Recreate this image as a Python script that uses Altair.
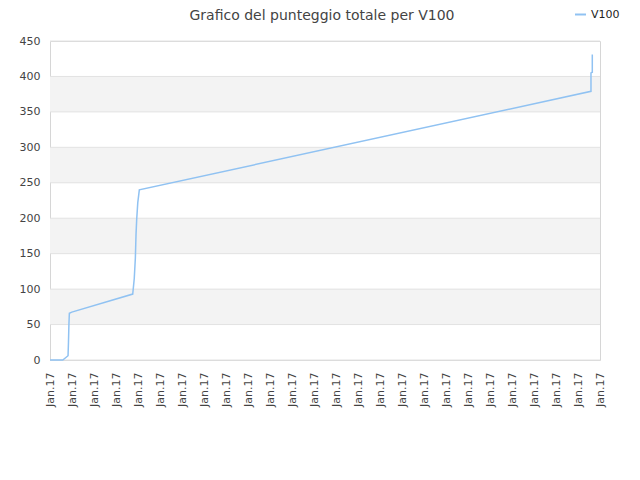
import altair as alt
import pandas as pd

# position along the x axis (in units of tick labels) and cumulative score
pos = [0.0, 0.58, 0.82, 0.84, 0.86, 0.88, 0.99, 3.76, 3.83, 3.88, 3.91, 3.94, 3.99, 4.06, 24.59, 24.59, 24.65, 24.65]
score = [0, 0, 6, 25, 50, 66, 67.5, 93, 115, 144, 177, 198, 222, 240, 379, 405, 406, 431]
series = ["V100"] * len(pos)

tick_pos = list(range(26))
tick_label = "Jan.17"
y_ticks = [0, 50, 100, 150, 200, 250, 300, 350, 400, 450]

band_start = [50, 150, 250, 350]
band_end = [100, 200, 300, 400]

df = pd.DataFrame({"pos": pos, "score": score, "serie": series})
bands = pd.DataFrame({"y0": band_start, "y1": band_end})
grid = pd.DataFrame({"g": y_ticks})

font = "DejaVu Sans"
yscale = alt.Scale(domain=[0, 450], nice=False)

y_axis = alt.Axis(
    values=y_ticks,
    title=None,
    ticks=False,
    domain=False,
    grid=False,
    labelOverlap=False,
    labelPadding=10,
    labelFontSize=11,
    labelColor="#444444",
    labelFont=font,
)

band_layer = alt.Chart(bands).mark_rect(color="#f3f3f3").encode(
    y=alt.Y("y0:Q", scale=yscale, axis=y_axis),
    y2="y1:Q",
)

grid_layer = alt.Chart(grid).mark_rule(color="#e2e2e2", strokeWidth=1).encode(
    y=alt.Y("g:Q", scale=yscale, axis=y_axis),
)

line = alt.Chart(df).mark_line(strokeWidth=1.5, interpolate="linear").encode(
    x=alt.X(
        "pos:Q",
        scale=alt.Scale(domain=[0, 25], nice=False, zero=False),
        axis=alt.Axis(
            values=tick_pos,
            labelExpr="'" + tick_label + "'",
            labelAngle=-90,
            title=None,
            grid=False,
            ticks=False,
            domain=False,
            labelPadding=12,
            labelFontSize=11,
            labelColor="#444444",
            labelFont=font,
        ),
    ),
    y=alt.Y("score:Q", scale=yscale, axis=y_axis),
    color=alt.Color(
        "serie:N",
        scale=alt.Scale(range=["#90c2f2"]),
        legend=alt.Legend(
            title=None,
            orient="none",
            legendX=524,
            legendY=-33,
            symbolType="stroke",
            symbolStrokeWidth=2,
            symbolSize=120,
            labelFontSize=11,
            labelFont=font,
            labelColor="#222222",
        ),
    ),
)

chart = (
    alt.layer(band_layer, grid_layer, line)
    .properties(
        width=550,
        height=319,
        autosize=alt.AutoSizeParams(type="none"),
        padding={"left": 42, "top": 33, "right": 24, "bottom": 96},
        title=alt.TitleParams(
            "Grafico del punteggio totale per V100",
            font=font,
            fontSize=14,
            fontWeight="normal",
            color="#444444",
            offset=20,
            dx=-3,
            dy=35,
        ),
    )
    .configure_view(stroke="#d6d6d6")
)

chart.save("out.html", embed_options={"renderer": "svg", "actions": False})
